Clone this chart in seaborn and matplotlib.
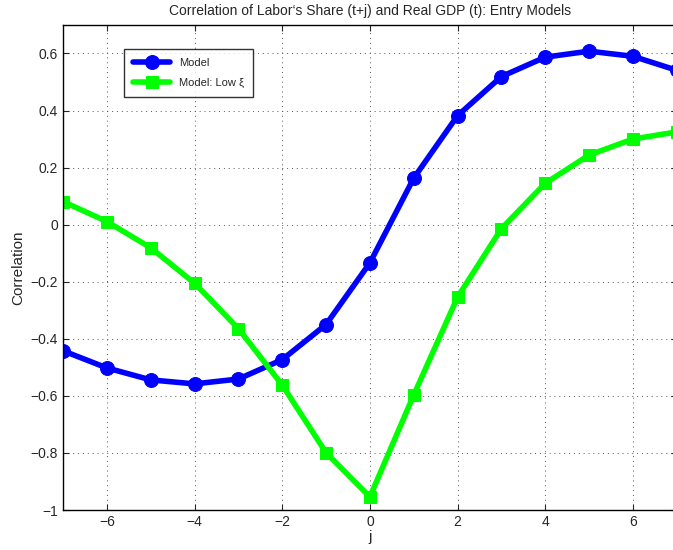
import numpy as np
import seaborn as sns
import matplotlib.pyplot as plt

# Datos
j = [-7, -6, -5, -4, -3, -2, -1, 0, 1, 2, 3, 4, 5, 6, 7]
model = [-0.442, -0.502, -0.544, -0.558, -0.541, -0.473, -0.350, -0.134,
         0.163, 0.382, 0.519, 0.587, 0.608, 0.590, 0.541]
model_low_xi = [0.081, 0.011, -0.081, -0.205, -0.364, -0.562, -0.799, -0.954,
                -0.597, -0.254, -0.014, 0.145, 0.244, 0.300, 0.325]

sns.set_style("white")
plt.rcParams["font.family"] = ["Liberation Sans", "DejaVu Sans"]

fig = plt.figure(figsize=(6.73, 5.5), dpi=100)
ax = fig.add_axes([0.0936, 0.0727, 0.912, 0.882])

sns.lineplot(x=j, y=model, ax=ax, color="#0000ff", lw=4, marker="o",
             markersize=10, markeredgecolor="#0000ff", label="Model")
sns.lineplot(x=j, y=model_low_xi, ax=ax, color="#00ff00", lw=4, marker="s",
             markersize=9, markeredgecolor="#00ff00", label="Model: Low \u03be")

ax.set_xlim(-7, 7)
ax.set_ylim(-1, 0.7)
ax.set_xticks([-6, -4, -2, 0, 2, 4, 6])
ax.set_yticks(np.arange(-1, 0.61, 0.2))
ax.set_yticklabels(["\u22121", "\u22120.8", "\u22120.6", "\u22120.4", "\u22120.2", "0", "0.2", "0.4", "0.6"])
ax.set_xticklabels(["\u22126", "\u22124", "\u22122", "0", "2", "4", "6"])
ax.tick_params(labelsize=10, direction="in", length=4, left=True, bottom=True, top=True, right=True)
ax.grid(True, color="#555555", linestyle=(0, (1, 4)), lw=0.7)
for s in ax.spines.values():
    s.set_color("black")
    s.set_linewidth(1)

ax.set_xlabel("j", fontsize=11, labelpad=1)
ax.set_ylabel("Correlation", fontsize=11)
ax.set_title("Correlation of Labor\u2018s Share (t+j) and Real GDP (t): Entry Models", fontsize=10, pad=7)

leg = ax.legend(loc="upper left", bbox_to_anchor=(0.09, 0.962), fontsize=8, frameon=True,
                fancybox=False, edgecolor="black", handlelength=3.4, borderpad=0.8,
                labelspacing=0.9)
leg.get_frame().set_linewidth(1)

fig.savefig("out.png", dpi=100)
